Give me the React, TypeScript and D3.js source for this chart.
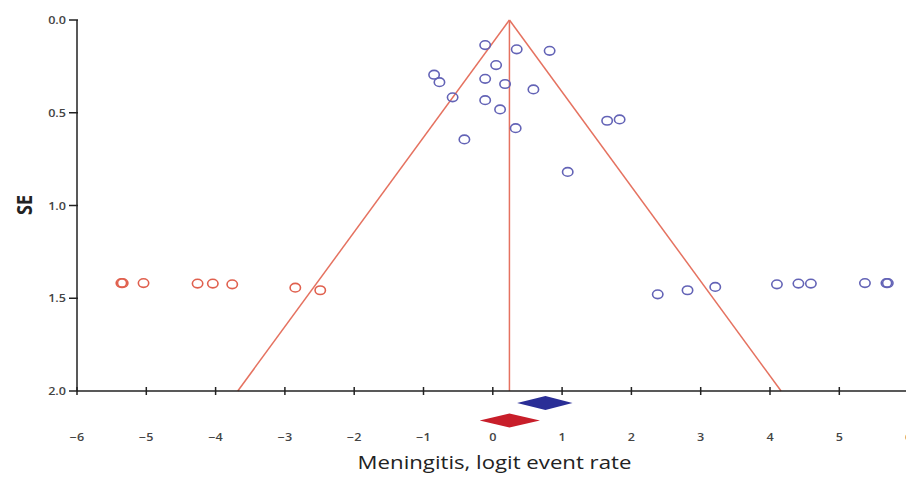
import React from "react";
import * as d3 from "d3";

const observedX = [-0.11, 0.345, 0.82, 0.048, -0.847, -0.77, -0.11, 0.177, 0.586, -0.58, -0.11, 0.105, 0.33, -0.41, 1.081, 1.65, 1.83, 2.38, 2.81, 3.21, 4.10, 4.41, 4.59, 5.37, 5.68, 5.70];
const observedSE = [0.135, 0.158, 0.166, 0.243, 0.295, 0.335, 0.317, 0.345, 0.374, 0.417, 0.432, 0.482, 0.583, 0.644, 0.819, 0.543, 0.536, 1.479, 1.457, 1.439, 1.425, 1.421, 1.421, 1.418, 1.418, 1.418];
const imputedX = [-5.36, -5.34, -5.04, -4.26, -4.04, -3.76, -2.85, -2.49];
const imputedSE = [1.418, 1.418, 1.418, 1.421, 1.421, 1.425, 1.443, 1.457];

const pooledObserved = { mean: 0.76, lo: 0.35, hi: 1.15 };
const pooledAdjusted = { mean: 0.24, lo: -0.19, hi: 0.68 };
const funnelMean = 0.24;

const xTicks = [-6, -5, -4, -3, -2, -1, 0, 1, 2, 3, 4, 5, 6];
const yTicks = [0, 0.5, 1.0, 1.5, 2.0];
const xLabel = "Meningitis, logit event rate";
const yLabel = "SE";

export default function App() {
  const W = 906, H = 477;
  const x = d3.scaleLinear().domain([-6, 6]).range([77, 908.6]);
  const y = d3.scaleLinear().domain([0, 2]).range([20, 391]);
  const font = "'Open Sans', 'Noto Sans', sans-serif";
  const sx = 1.2;
  const fmtMinus = (v: number) => (v < 0 ? "\u2212" + Math.abs(v) : String(v));
  const funnelColor = "#e57260";
  const line = d3.line<[number, number]>().x(d => x(d[0])).y(d => y(d[1]));
  const seMax = 2;
  const leftFunnel: [number, number][] = [[funnelMean, 0], [funnelMean - 1.96 * seMax, seMax]];
  const rightFunnel: [number, number][] = [[funnelMean, 0], [funnelMean + 1.96 * seMax, seMax]];
  const vert: [number, number][] = [[funnelMean, 0], [funnelMean, seMax]];
  const diamond = (d: { mean: number; lo: number; hi: number }, cy: number, h: number) =>
    `M${x(d.lo)},${cy} L${x(d.mean)},${cy - h} L${x(d.hi)},${cy} L${x(d.mean)},${cy + h} Z`;

  return (
    <svg width={W} height={H} style={{ position: "absolute", left: 0, top: 0, background: "#fff" }}>
      {/* funnel */}
      <path d={line(leftFunnel) || ""} stroke={funnelColor} strokeWidth={1.5} fill="none" />
      <path d={line(rightFunnel) || ""} stroke={funnelColor} strokeWidth={1.5} fill="none" />
      <path d={line(vert) || ""} stroke={funnelColor} strokeWidth={1.5} fill="none" />

      {/* points */}
      {observedX.map((v, i) => (
        <ellipse key={"o" + i} cx={x(v)} cy={y(observedSE[i])} rx={5.2} ry={4.3} fill="none" stroke="#6363b6" strokeWidth={1.6} />
      ))}
      {imputedX.map((v, i) => (
        <ellipse key={"m" + i} cx={x(v)} cy={y(imputedSE[i])} rx={5.2} ry={4.3} fill="none" stroke="#e0604e" strokeWidth={1.6} />
      ))}

      {/* axes */}
      <line x1={x(-6)} x2={W} y1={y(2)} y2={y(2)} stroke="#222" strokeWidth={1.5} />
      <line x1={x(-6)} x2={x(-6)} y1={y(0)} y2={y(2)} stroke="#222" strokeWidth={1.5} />
      {xTicks.map(t => (
        <g key={"xt" + t}>
          <line x1={x(t)} x2={x(t)} y1={y(2) - 4} y2={y(2) + 4} stroke="#222" strokeWidth={1.5} />
          <text transform={`translate(${x(t)},441) scale(${sx},1)`} textAnchor="middle" fontFamily={font} fontSize={10.5} fontWeight={600} fill="#444">{fmtMinus(t)}</text>
        </g>
      ))}
      {yTicks.map(t => (
        <g key={"yt" + t}>
          <line x1={x(-6) - 8} x2={x(-6) + 1} y1={y(t)} y2={y(t)} stroke="#222" strokeWidth={1.5} />
          <text transform={`translate(66,${y(t) + 4}) scale(${sx},1)`} textAnchor="end" fontFamily={font} fontSize={10.5} fontWeight={600} fill="#444">{t.toFixed(1)}</text>
        </g>
      ))}

      {/* diamonds */}
      <path d={diamond(pooledObserved, 403, 7)} fill="#2a2e96" />
      <path d={diamond(pooledAdjusted, 420.5, 7)} fill="#c81e2a" />

      {/* labels */}
      <text transform={`translate(494.5,468.5) scale(${sx},1)`} textAnchor="middle" fontFamily={font} fontSize={18.5} fill="#222">{xLabel}</text>
      <text transform={`translate(31.5,205) scale(${sx},1) rotate(-90)`} textAnchor="middle" fontFamily={font} fontSize={18} fontWeight={700} fill="#222">{yLabel}</text>
    </svg>
  );
}
